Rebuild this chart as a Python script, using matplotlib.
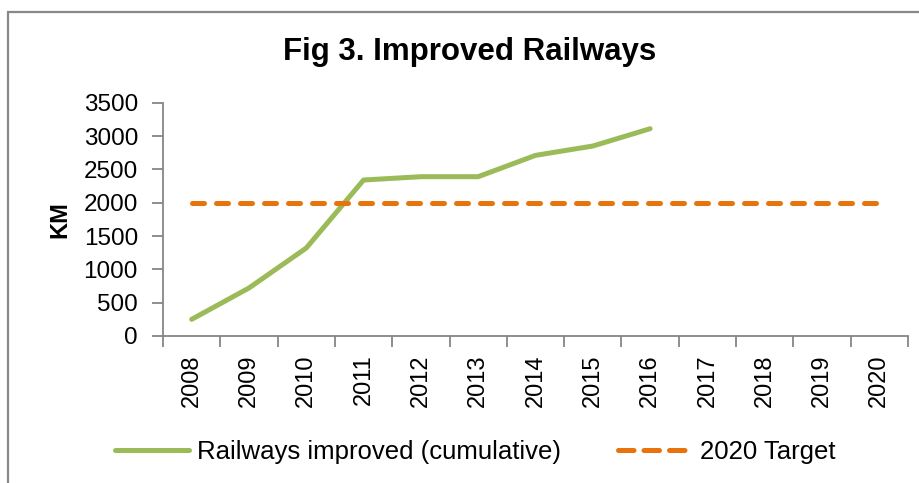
import matplotlib.pyplot as plt
import matplotlib.patches as patches
from matplotlib.lines import Line2D
import numpy as np

years = ["2008", "2009", "2010", "2011", "2012", "2013", "2014",
         "2015", "2016", "2017", "2018", "2019", "2020"]
railways_km = [250, 720, 1320, 2340, 2390, 2390, 2710, 2850, 3110]
target_km = [2000] * len(years)

GREEN = "#9BBB59"
ORANGE = "#E8730C"
AXIS_GRAY = "#868686"

plt.rcParams["font.family"] = ["Liberation Sans", "DejaVu Sans"]

fig = plt.figure(figsize=(9.2, 4.83), dpi=100)
ax = fig.add_axes([163 / 920, 1 - 336 / 483, (908 - 163) / 920, (336 - 102.7) / 483])

x_all = np.arange(len(years))
ax.plot(x_all[:len(railways_km)], railways_km, color=GREEN, lw=3.6,
        solid_capstyle="round", solid_joinstyle="round")
ax.plot(x_all, target_km, color=ORANGE, lw=3.6, dashes=(2.4, 2.4),
        dash_capstyle="round")

ax.set_xlim(-0.5, len(years) - 0.5)
ax.set_ylim(0, 3500)
ax.set_yticks(np.arange(0, 3501, 500))

# category boundaries carry the ticks, labels sit in between
ax.set_xticks(np.arange(-0.5, len(years), 1.0))
ax.set_xticklabels([])
ax.set_xticks(x_all, minor=True)
ax.set_xticklabels(years, minor=True, rotation=90, fontsize=17)
ax.tick_params(axis="x", which="major", length=8, width=1.3, color=AXIS_GRAY, direction="out")
ax.tick_params(axis="x", which="minor", length=0, pad=13)
ax.tick_params(axis="y", length=8, width=1.3, color=AXIS_GRAY, direction="out",
               labelsize=17.5, pad=10)

for side in ["top", "right"]:
    ax.spines[side].set_visible(False)
for side in ["left", "bottom"]:
    ax.spines[side].set_color(AXIS_GRAY)
    ax.spines[side].set_linewidth(1.3)

ax.set_ylabel("KM", fontsize=17, fontweight="bold", labelpad=9)

fig.text(470 / 920, 1 - 52 / 483, "Fig 3. Improved Railways", fontsize=22.5,
         fontweight="bold", ha="center", va="center")

# legend proxies: the short dashed sample needs its own dash pattern to show 3 dashes
handles = [
    Line2D([], [], color=GREEN, lw=3.6, solid_capstyle="round"),
    Line2D([], [], color=ORANGE, lw=3.6, dashes=(3.1, 2.0), dash_capstyle="round"),
]
labels = ["Railways improved (cumulative)", "2020 Target"]
fig.legend(handles, labels, loc="center", bbox_to_anchor=(475 / 920, 1 - 452 / 483),
           ncol=2, frameon=False, fontsize=18.5, handlelength=2.9,
           handletextpad=0.3, columnspacing=2.2)

# outer chart border (left and top edges visible)
fig.patches.append(patches.Rectangle((8 / 920, -0.1), 1.2, 1 - 12 / 483 + 0.1,
                                     transform=fig.transFigure, fill=False,
                                     edgecolor="#888888", linewidth=1.6))

fig.savefig("out.png", dpi=100)
